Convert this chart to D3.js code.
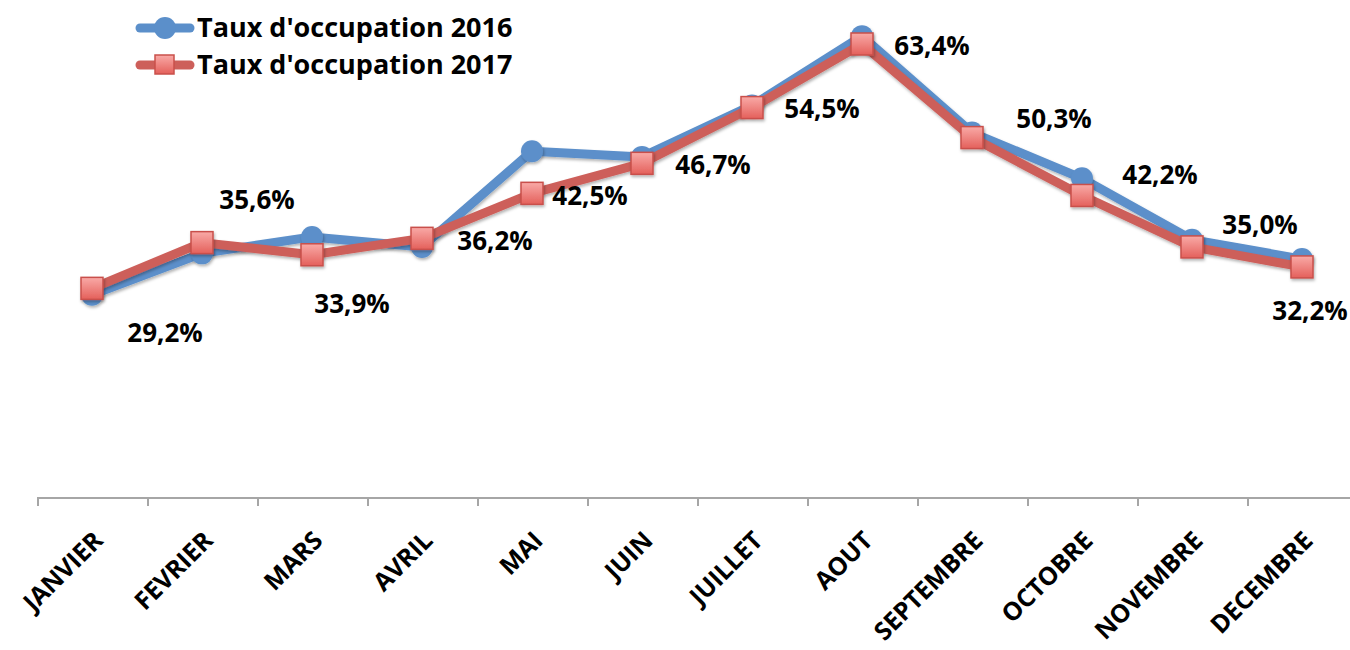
<!DOCTYPE html>
<html lang="fr">
<head>
  <meta charset="UTF-8">
  <title>Taux d'occupation</title>
  <style>
    body { margin: 0; background: #fff; }
    svg text { font-family: "Open Sans", "Noto Sans", sans-serif; font-weight: bold; fill: #000; }
    .axis path, .axis line { fill: none; stroke: #a6a6a6; stroke-width: 2; shape-rendering: crispEdges; }
  </style>
</head>
<body>
  <script src="https://cdn.jsdelivr.net/npm/d3@7/dist/d3.min.js"></script>
  <script>
    // données
    var mois = ["JANVIER", "FEVRIER", "MARS", "AVRIL", "MAI", "JUIN", "JUILLET", "AOUT",
                "SEPTEMBRE", "OCTOBRE", "NOVEMBRE", "DECEMBRE"];
    var taux2016 = [28.3, 34.1, 36.4, 35.0, 48.4, 47.6, 54.8, 64.5, 51.0, 44.6, 36.0, 33.3];
    var taux2017 = [29.2, 35.6, 33.9, 36.2, 42.5, 46.7, 54.5, 63.4, 50.3, 42.2, 35.0, 32.2];
    var series = ["Taux d'occupation 2016", "Taux d'occupation 2017"];

    // décalage des étiquettes (dx, dy) par rapport au point 2017
    var labelOffset = [[73, 45], [55, -43], [40, 49], [73, 3], [58, 3], [71, 2],
                       [70, 1], [70, 2], [82, -19], [78, -21], [68, -22], [8, 44]];

    var width = 1350, height = 650;
    var svg = d3.select("body").append("svg").attr("width", width).attr("height", height);

    var x = d3.scaleBand().domain(mois).range([37, 1357]);
    var xEdge = d3.scaleLinear().domain([0, mois.length]).range([37, 1357]);
    var y = d3.scaleLinear().domain([0, 63.4]).range([497, 44]);

    var defs = svg.append("defs");
    var grad = defs.append("linearGradient").attr("id", "redGrad")
      .attr("x1", 0).attr("y1", 0).attr("x2", 0).attr("y2", 1);
    grad.append("stop").attr("offset", "0%").attr("stop-color", "#f9aaa7");
    grad.append("stop").attr("offset", "100%").attr("stop-color", "#e4605b");
    var sh = defs.append("filter").attr("id", "shadow")
      .attr("x", "-50%").attr("y", "-50%").attr("width", "200%").attr("height", "200%");
    sh.append("feDropShadow").attr("dx", 1).attr("dy", 2).attr("stdDeviation", 1.5)
      .attr("flood-color", "#000").attr("flood-opacity", 0.3);

    // axe des catégories
    svg.append("g").attr("class", "axis")
      .attr("transform", "translate(0,497)")
      .call(d3.axisBottom(xEdge).ticks(mois.length).tickSize(9).tickSizeOuter(0).tickFormat(""));

    svg.append("g").selectAll("text").data(mois).enter().append("text")
      .attr("transform", function (d) {
        return "translate(" + (x(d) + x.bandwidth() / 2 + 6) + ",536) rotate(-45)";
      })
      .attr("text-anchor", "end")
      .attr("dy", "0.35em")
      .style("font-size", "25px")
      .style("letter-spacing", "-0.2px")
      .text(function (d) { return d; });

    var line = d3.line()
      .x(function (d, i) { return x(mois[i]) + x.bandwidth() / 2; })
      .y(function (d) { return y(d); });

    // 2016
    svg.append("path").datum(taux2016)
      .attr("d", line).attr("fill", "none")
      .attr("stroke", "#5b8fca").attr("stroke-width", 9).attr("stroke-linejoin", "round")
      .attr("filter", "url(#shadow)");
    svg.append("g").selectAll("circle").data(taux2016).enter().append("circle")
      .attr("cx", function (d, i) { return x(mois[i]) + x.bandwidth() / 2; })
      .attr("cy", function (d) { return y(d); })
      .attr("r", 11).attr("fill", "#5b8fca").attr("filter", "url(#shadow)");

    // 2017
    svg.append("path").datum(taux2017)
      .attr("d", line).attr("fill", "none")
      .attr("stroke", "#cd5f5a").attr("stroke-width", 9).attr("stroke-linejoin", "round")
      .attr("filter", "url(#shadow)");
    svg.append("g").selectAll("rect").data(taux2017).enter().append("rect")
      .attr("x", function (d, i) { return x(mois[i]) + x.bandwidth() / 2 - 11; })
      .attr("y", function (d) { return y(d) - 11; })
      .attr("width", 22).attr("height", 22)
      .attr("fill", "url(#redGrad)").attr("stroke", "#c9504b").attr("stroke-width", 1.5)
      .attr("filter", "url(#shadow)");

    // étiquettes 2017
    svg.append("g").selectAll("text").data(taux2017).enter().append("text")
      .attr("x", function (d, i) { return x(mois[i]) + x.bandwidth() / 2 + labelOffset[i][0]; })
      .attr("y", function (d, i) { return y(d) + labelOffset[i][1]; })
      .attr("text-anchor", "middle")
      .attr("dy", "0.35em")
      .style("font-size", "26px")
      .text(function (d) { return d.toFixed(1).replace(".", ",") + "%"; });

    // légende
    var legend = svg.append("g").selectAll("g").data(series).enter().append("g")
      .attr("transform", function (d, i) { return "translate(0," + (28 + i * 37) + ")"; });
    legend.append("line")
      .attr("x1", 140).attr("x2", 190).attr("y1", 0).attr("y2", 0)
      .attr("stroke", function (d, i) { return i ? "#cd5f5a" : "#5b8fca"; })
      .attr("stroke-width", 9).attr("stroke-linecap", "round");
    legend.filter(function (d, i) { return i === 0; }).append("circle")
      .attr("cx", 165).attr("cy", 0).attr("r", 11).attr("fill", "#5b8fca");
    legend.filter(function (d, i) { return i === 1; }).append("rect")
      .attr("x", 155).attr("y", -10).attr("width", 19).attr("height", 19)
      .attr("fill", "url(#redGrad)").attr("stroke", "#c9504b").attr("stroke-width", 1.5);
    legend.append("text")
      .attr("x", 197).attr("dy", "0.35em")
      .style("font-size", "27px")
      .text(function (d) { return d; });
  </script>
</body>
</html>
